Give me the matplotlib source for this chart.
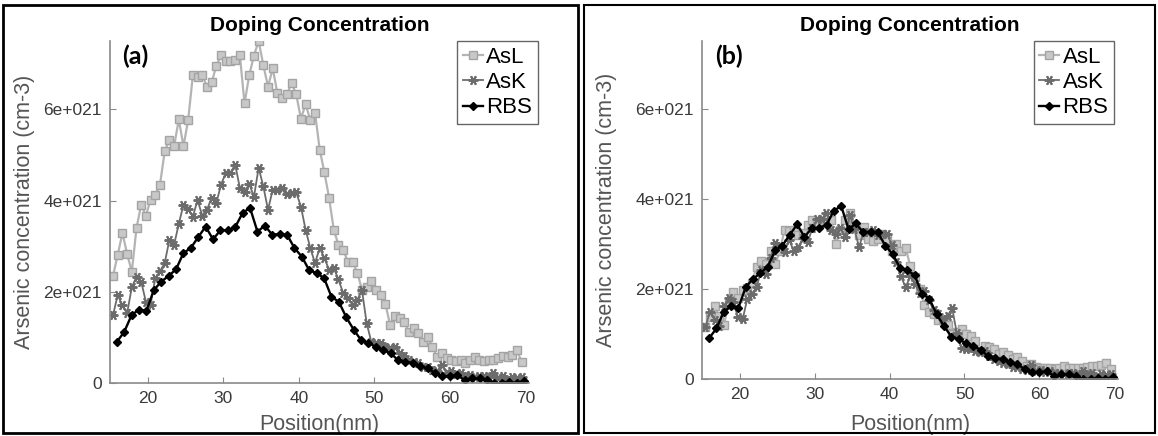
#!/usr/bin/env python3

import numpy as np
from matplotlib import patches
from matplotlib.pyplot import figure, rcParams

# depth grids (nm): AsL/AsK share one, RBS is sampled coarser
as_depth = np.linspace(15.4, 69.5, 88)
rbs_depth = np.linspace(15.9, 69.8, 56)

# panel (a): raw concentrations, units of 1e21 cm-3
asl_a = [
    2.35, 2.81, 3.29, 2.83, 2.44, 3.40, 3.91, 3.67, 4.02, 4.13,
    4.35, 5.08, 5.33, 5.19, 5.78, 5.19, 5.77, 6.75, 6.72, 6.75,
    6.50, 6.59, 6.96, 7.19, 7.07, 7.07, 7.09, 7.19, 6.13, 6.75,
    7.18, 7.50, 6.97, 6.50, 6.90, 6.35, 6.24, 6.33, 6.57, 6.33,
    5.80, 6.11, 5.77, 5.93, 5.12, 4.62, 4.06, 3.36, 3.03, 2.92,
    2.66, 2.66, 2.42, 2.05, 2.11, 2.24, 2.04, 1.93, 1.73, 1.27,
    1.47, 1.42, 1.34, 1.12, 1.20, 1.10, 0.90, 1.01, 0.79, 0.57,
    0.65, 0.54, 0.51, 0.48, 0.50, 0.43, 0.50, 0.57, 0.50, 0.48,
    0.51, 0.51, 0.54, 0.59, 0.57, 0.62, 0.72, 0.46,
]
ask_a = [
    1.49, 1.93, 1.70, 1.53, 2.10, 2.33, 2.22, 1.78, 1.72, 2.30,
    2.45, 2.63, 3.14, 3.03, 3.49, 3.91, 3.82, 3.65, 4.01, 3.67,
    3.80, 4.06, 3.95, 4.35, 4.61, 4.61, 4.79, 4.28, 4.18, 4.37,
    4.08, 4.72, 4.31, 3.80, 4.24, 4.24, 4.28, 4.15, 4.17, 4.18,
    3.87, 3.36, 2.96, 2.63, 2.96, 2.74, 2.48, 2.52, 2.27, 1.97,
    1.86, 1.71, 1.82, 2.04, 1.31, 0.90, 0.87, 0.88, 0.79, 0.76,
    0.79, 0.65, 0.59, 0.50, 0.46, 0.43, 0.35, 0.34, 0.28, 0.26,
    0.39, 0.22, 0.26, 0.19, 0.22, 0.15, 0.17, 0.13, 0.15, 0.15,
    0.13, 0.22, 0.10, 0.15, 0.07, 0.13, 0.10, 0.13,
]
rbs = [
    0.90, 1.12, 1.49, 1.61, 1.58, 2.04, 2.22, 2.35, 2.49, 2.85,
    2.96, 3.20, 3.43, 3.15, 3.35, 3.35, 3.42, 3.73, 3.84, 3.32,
    3.45, 3.25, 3.27, 3.25, 2.96, 2.77, 2.47, 2.41, 2.30, 1.89,
    1.78, 1.44, 1.17, 0.94, 0.88, 0.79, 0.72, 0.65, 0.50, 0.46,
    0.44, 0.37, 0.32, 0.22, 0.15, 0.15, 0.17, 0.06, 0.10, 0.10,
    0.06, 0.00, 0.00, 0.02, 0.00, 0.04,
]

# panel (b): calibrated AsL / AsK
asl_b = [
    1.15, 1.38, 1.61, 1.39, 1.20, 1.67, 1.92, 1.80, 1.97, 2.02,
    2.13, 2.49, 2.61, 2.54, 2.83, 2.54, 2.83, 3.31, 3.29, 3.31,
    3.19, 3.23, 3.41, 3.52, 3.46, 3.46, 3.47, 3.52, 3.00, 3.31,
    3.52, 3.68, 3.42, 3.19, 3.38, 3.11, 3.06, 3.10, 3.22, 3.10,
    2.84, 2.99, 2.83, 2.91, 2.51, 2.26, 1.99, 1.65, 1.48, 1.43,
    1.30, 1.30, 1.19, 1.00, 1.03, 1.10, 1.00, 0.95, 0.85, 0.62,
    0.72, 0.70, 0.66, 0.55, 0.59, 0.54, 0.44, 0.49, 0.39, 0.28,
    0.32, 0.26, 0.25, 0.24, 0.25, 0.21, 0.25, 0.28, 0.25, 0.24,
    0.25, 0.25, 0.26, 0.29, 0.28, 0.30, 0.35, 0.23,
]
ask_b = [
    1.15, 1.49, 1.31, 1.18, 1.62, 1.79, 1.71, 1.37, 1.32, 1.77,
    1.89, 2.03, 2.42, 2.33, 2.69, 3.01, 2.94, 2.81, 3.09, 2.83,
    2.93, 3.13, 3.04, 3.35, 3.55, 3.55, 3.69, 3.30, 3.22, 3.36,
    3.14, 3.63, 3.32, 2.93, 3.26, 3.26, 3.30, 3.20, 3.21, 3.22,
    2.98, 2.59, 2.28, 2.03, 2.28, 2.11, 1.91, 1.94, 1.75, 1.52,
    1.43, 1.32, 1.40, 1.57, 1.01, 0.69, 0.67, 0.68, 0.61, 0.59,
    0.61, 0.50, 0.45, 0.39, 0.35, 0.33, 0.27, 0.26, 0.22, 0.20,
    0.30, 0.17, 0.20, 0.15, 0.17, 0.12, 0.13, 0.10, 0.12, 0.12,
    0.10, 0.17, 0.08, 0.12, 0.05, 0.10, 0.08, 0.10,
]

y_ticks = [0, 2e21, 4e21, 6e21]
y_ticklabels = ["0", "2e+021", "4e+021", "6e+021"]
x_ticks = [20, 30, 40, 50, 60, 70]
labels = ["AsL", "AsK", "RBS"]

rcParams["font.family"] = ["Liberation Sans", "DejaVu Sans"]


def panel(fig, rect, asl, ask, tag, legend_anchor, ylab_x, xlab_y):
    ax = fig.add_axes(rect)
    e21 = 1e21
    ax.plot(as_depth, np.array(asl) * e21, color="#b4b4b4", lw=1.6,
            marker="s", ms=6, mfc="#c8c8c8", mec="#a4a4a4", mew=1.0,
            label=labels[0])
    ax.plot(as_depth, np.array(ask) * e21, color="#6c6c6c", lw=1.3,
            marker=(6, 2, 90), ms=7, mew=1.4, label=labels[1])
    ax.plot(rbs_depth, np.array(rbs) * e21, color="black", lw=1.7,
            marker="D", ms=4, label=labels[2])
    ax.set_xlim(15, 70.5)
    ax.set_ylim(0, 7.5e21)
    ax.set_xticks(x_ticks)
    ax.set_yticks(y_ticks)
    ax.set_yticklabels(y_ticklabels)
    for side in ["top", "right"]:
        ax.spines[side].set_visible(False)
    for side in ["left", "bottom"]:
        ax.spines[side].set_color("#8a8a8a")
        ax.spines[side].set_linewidth(1.2)
    ax.tick_params(direction="in", length=4, color="#8a8a8a",
                   labelsize=12.5, labelcolor="#3a3a3a", pad=6)
    ax.set_xlabel("Position(nm)", fontsize=15.5, color="#555555")
    ax.set_ylabel("Arsenic concentration (cm-3)", fontsize=15.5,
                  color="#555555")
    ax.xaxis.set_label_coords(0.5, xlab_y)
    ax.yaxis.set_label_coords(ylab_x, 0.5)
    ax.set_title("Doping Concentration", fontsize=15, fontweight="bold",
                 pad=7)
    ax.text(0.03, 0.955, tag, transform=ax.transAxes, fontsize=18,
            fontweight="bold", family="Lato", va="center")
    leg = ax.legend(loc="upper right", bbox_to_anchor=legend_anchor,
                    borderaxespad=0, fontsize=16, handlelength=0.9,
                    handletextpad=0.15, borderpad=0.25, labelspacing=0.2,
                    fancybox=False, framealpha=1)
    leg.get_frame().set_edgecolor("#666666")
    leg.get_frame().set_linewidth(1.0)
    return ax


def main():
    fig = figure(figsize=(11.58, 4.36), dpi=100)
    panel(fig, [0.095, 0.1216, 0.362, 0.7844], asl_a, ask_a, "(a)",
          (1.02, 1.0), -0.18, -0.09)
    panel(fig, [0.6065, 0.131, 0.359, 0.775], asl_b, ask_b, "(b)",
          (0.99, 1.0), -0.205, -0.105)
    # panel frames
    fig.patches.append(patches.Rectangle(
        (3 / 1158, 3 / 436), 575 / 1158, 428 / 436, fill=False,
        edgecolor="black", lw=2, transform=fig.transFigure))
    fig.patches.append(patches.Rectangle(
        (584 / 1158, 3 / 436), 571 / 1158, 428 / 436, fill=False,
        edgecolor="black", lw=1.5, transform=fig.transFigure))
    fig.savefig("out.png", dpi=100)


if __name__ == "__main__":
    main()
